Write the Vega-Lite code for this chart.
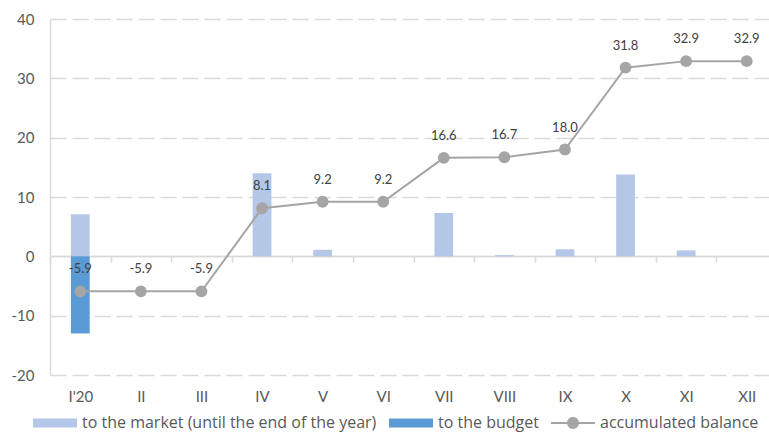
{
  "$schema": "https://vega.github.io/schema/vega-lite/v6.json",
  "width": 719,
  "height": 356,
  "autosize": {"type": "none"},
  "padding": {"left": 50, "top": 19, "right": 0, "bottom": 59},
  "config": {
    "locale": {"number": {"decimal": ".", "thousands": ",", "grouping": [3], "currency": ["$", ""], "minus": "-"}},
    "view": {"stroke": null},
    "font": "Lato"
  },
  "data": {
    "values": [
      {"month": "I'20", "series": "to the market (until the end of the year)", "value": 7.1},
      {"month": "I'20", "series": "to the budget", "value": -13.0},
      {"month": "I'20", "series": "accumulated balance", "value": -5.9},
      {"month": "II", "series": "to the market (until the end of the year)", "value": 0},
      {"month": "II", "series": "accumulated balance", "value": -5.9},
      {"month": "III", "series": "to the market (until the end of the year)", "value": 0},
      {"month": "III", "series": "accumulated balance", "value": -5.9},
      {"month": "IV", "series": "to the market (until the end of the year)", "value": 14.0},
      {"month": "IV", "series": "accumulated balance", "value": 8.1},
      {"month": "V", "series": "to the market (until the end of the year)", "value": 1.1},
      {"month": "V", "series": "accumulated balance", "value": 9.2},
      {"month": "VI", "series": "to the market (until the end of the year)", "value": 0},
      {"month": "VI", "series": "accumulated balance", "value": 9.2},
      {"month": "VII", "series": "to the market (until the end of the year)", "value": 7.3},
      {"month": "VII", "series": "accumulated balance", "value": 16.6},
      {"month": "VIII", "series": "to the market (until the end of the year)", "value": 0.2},
      {"month": "VIII", "series": "accumulated balance", "value": 16.7},
      {"month": "IX", "series": "to the market (until the end of the year)", "value": 1.2},
      {"month": "IX", "series": "accumulated balance", "value": 18.0},
      {"month": "X", "series": "to the market (until the end of the year)", "value": 13.8},
      {"month": "X", "series": "accumulated balance", "value": 31.8},
      {"month": "XI", "series": "to the market (until the end of the year)", "value": 1.0},
      {"month": "XI", "series": "accumulated balance", "value": 32.9},
      {"month": "XII", "series": "to the market (until the end of the year)", "value": 0},
      {"month": "XII", "series": "accumulated balance", "value": 32.9}
    ]
  },
  "encoding": {
    "x": {
      "field": "month",
      "type": "nominal",
      "sort": ["I'20", "II", "III", "IV", "V", "VI", "VII", "VIII", "IX", "X", "XI", "XII"],
      "scale": {"range": [0, 727], "paddingInner": 0, "paddingOuter": 0},
      "axis": {
        "title": null,
        "orient": "bottom",
        "offset": -119,
        "domainColor": "#D9D9D9",
        "domainWidth": 1.5,
        "tickColor": "#D9D9D9",
        "tickWidth": 1.5,
        "tickSize": 6,
        "tickBand": "extent",
        "labelPadding": 127,
        "labelColor": "#595959",
        "labelFontSize": 15,
        "labelAngle": 0,
        "grid": false
      }
    },
    "y": {
      "field": "value",
      "type": "quantitative",
      "stack": "zero",
      "scale": {"domain": [-20, 40], "nice": false},
      "axis": {
        "title": null,
        "values": [-20, -10, 0, 10, 20, 30, 40],
        "domainColor": "#D9D9D9",
        "domainWidth": 1.5,
        "ticks": false,
        "labelPadding": 16,
        "labelColor": "#595959",
        "labelFontSize": 15,
        "grid": true,
        "gridColor": "#D9D9D9",
        "gridWidth": 1.5,
        "gridDash": {"condition": {"test": "datum.value === 0", "value": []}, "value": [16, 6]}
      }
    },
    "color": {
      "field": "series",
      "type": "nominal",
      "scale": {
        "domain": ["to the market (until the end of the year)", "to the budget", "accumulated balance"],
        "range": ["#B4C7E7", "#5B9BD5", "#A5A5A5"]
      },
      "legend": {
        "title": null,
        "orient": "none",
        "legendX": -17,
        "legendY": 382,
        "direction": "horizontal",
        "columns": 3,
        "padding": 0,
        "columnPadding": 12,
        "labelOffset": 5,
        "labelFont": "Open Sans",
        "labelFontSize": 16,
        "labelColor": "#595959",
        "labelLimit": 400,
        "symbolSize": 1936,
        "symbolStrokeWidth": 0,
        "encode": {
          "symbols": {
            "update": {
              "shape": {"signal": "datum.value === 'accumulated balance' ? 'M-1,-0.045H1V0.045H-1Z M-0.27,0A0.27,0.27 0 1,1 0.27,0A0.27,0.27 0 1,1 -0.27,0Z' : 'M-1,-0.2H1V0.2H-1Z'"},
              "fill": {"scale": "color", "field": "value"},
              "stroke": {"value": "transparent"},
              "opacity": {"value": 1}
            }
          }
        }
      }
    }
  },
  "layer": [
    {
      "transform": [{"filter": "datum.series !== 'accumulated balance'"}],
      "mark": {"type": "bar", "width": {"band": 0.31}}
    },
    {
      "transform": [{"filter": "datum.series === 'accumulated balance'"}],
      "mark": {"type": "line", "strokeWidth": 2}
    },
    {
      "transform": [{"filter": "datum.series === 'accumulated balance'"}],
      "mark": {"type": "circle", "size": 140, "opacity": 1}
    },
    {
      "transform": [{"filter": "datum.series === 'accumulated balance'"}],
      "mark": {"type": "text", "dy": -22, "fontSize": 13, "color": "#404040"},
      "encoding": {
        "text": {"field": "value", "type": "quantitative", "format": ".1f"},
        "color": {"value": "#404040"}
      }
    }
  ]
}
